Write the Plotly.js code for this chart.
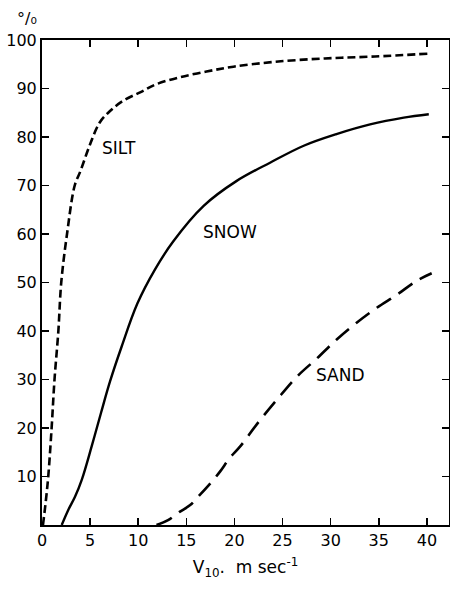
<!DOCTYPE html>
<html>
<head>
<meta charset="utf-8">
<script src="https://cdn.plot.ly/plotly-3.0.1.min.js"></script>
<style>html,body{margin:0;padding:0;background:#fff;}#chart{width:450px;height:593px;}</style>
</head>
<body>
<div id="chart"></div>
<script>
// Wind speed V10 (m/s) and percent for each material
var siltV   = [0.1, 0.4, 0.65, 1.0, 1.3, 1.7, 2.0, 2.6, 3.4, 4.0, 5.0, 6.0, 7.1, 8.45, 10.2, 11.9, 14.3, 17.1, 19.9, 24.2, 29.4, 34.6, 40.3];
var siltPct = [0, 5, 10, 20, 30, 40, 50, 60, 70, 73, 78.5, 83, 85.4, 87.5, 89.2, 90.9, 92.3, 93.5, 94.5, 95.5, 96.2, 96.6, 97.2];

var snowV   = [2.05, 2.73, 3.43, 4.13, 5.16, 6.13, 7.07, 8.28, 9.9, 11.75, 13.65, 16.8, 20.2, 23.7, 27.2, 30.6, 34.1, 37.6, 40.2];
var snowPct = [0, 3.1, 5.8, 9.3, 16.2, 23.1, 29.6, 36.8, 45.6, 52.7, 58.5, 65.8, 70.9, 74.7, 78.2, 80.6, 82.6, 84.0, 84.7];

var sandV   = [11.9, 13.1, 14.3, 15.4, 16.4, 17.5, 18.5, 19.5, 20.6, 22.3, 24.4, 26.5, 28.6, 30.6, 32.7, 34.8, 36.9, 38.9, 40.5];
var sandPct = [0, 1.0, 2.7, 4.1, 6.2, 8.6, 11.0, 13.8, 16.2, 20.7, 25.8, 30.6, 34.4, 38.2, 41.7, 44.8, 47.5, 50.3, 51.9];

var xTicks = [0, 5, 10, 15, 20, 25, 30, 35, 40];
var yTicks = [10, 20, 30, 40, 50, 60, 70, 80, 90, 100];

var curveLabels = ["SILT", "SNOW", "SAND"];
var labelX = [8.0, 19.5, 31.0];
var labelY = [77.8, 60.5, 31];

var FONT = "DejaVu Sans, Liberation Sans, sans-serif";

var traces = [
  {x: siltV, y: siltPct, mode: "lines", line: {color: "#000", width: 2.6, dash: "8px,4px", shape: "spline", smoothing: 1}, hoverinfo: "skip"},
  {x: snowV, y: snowPct, mode: "lines", line: {color: "#000", width: 2.4, shape: "spline", smoothing: 1}, hoverinfo: "skip"},
  {x: sandV, y: sandPct, mode: "lines", line: {color: "#000", width: 2.6, dash: "17px,9px", shape: "spline", smoothing: 1}, hoverinfo: "skip"}
];

var annotations = curveLabels.map(function (t, i) {
  return {x: labelX[i], y: labelY[i], xref: "x", yref: "y", text: t, showarrow: false,
          font: {family: FONT, size: 17, color: "#000"}};
});
annotations.push({x: -0.037, y: 1.045, xref: "paper", yref: "paper", xanchor: "center", yanchor: "middle",
                  text: "°/₀", showarrow: false, font: {family: FONT, size: 16, color: "#000"}});

var layout = {
  width: 450, height: 593,
  margin: {l: 42, r: 1, t: 40, b: 68},
  paper_bgcolor: "#fff", plot_bgcolor: "#fff",
  showlegend: false,
  font: {family: FONT, color: "#000"},
  xaxis: {
    range: [0, 42.3], tickvals: xTicks, ticktext: xTicks.map(String),
    ticks: "inside", ticklen: 7, tickwidth: 1.5, tickcolor: "#000",
    showline: true, linecolor: "#000", linewidth: 2, mirror: "ticks",
    showgrid: false, zeroline: false,
    tickfont: {family: FONT, size: 16, color: "#000"},
    title: {text: "V<sub>10</sub>.  m sec<sup>-1</sup>", standoff: 12, font: {family: FONT, size: 17, color: "#000"}}
  },
  yaxis: {
    range: [0, 100], tickvals: yTicks, ticktext: yTicks.map(String),
    ticks: "inside", ticklen: 7, tickwidth: 1.5, tickcolor: "#000",
    showline: true, linecolor: "#000", linewidth: 2, mirror: "ticks",
    showgrid: false, zeroline: false,
    tickfont: {family: FONT, size: 16, color: "#000"}
  },
  annotations: annotations
};

Plotly.newPlot("chart", traces, layout, {staticPlot: true, displayModeBar: false});
</script>
</body>
</html>
